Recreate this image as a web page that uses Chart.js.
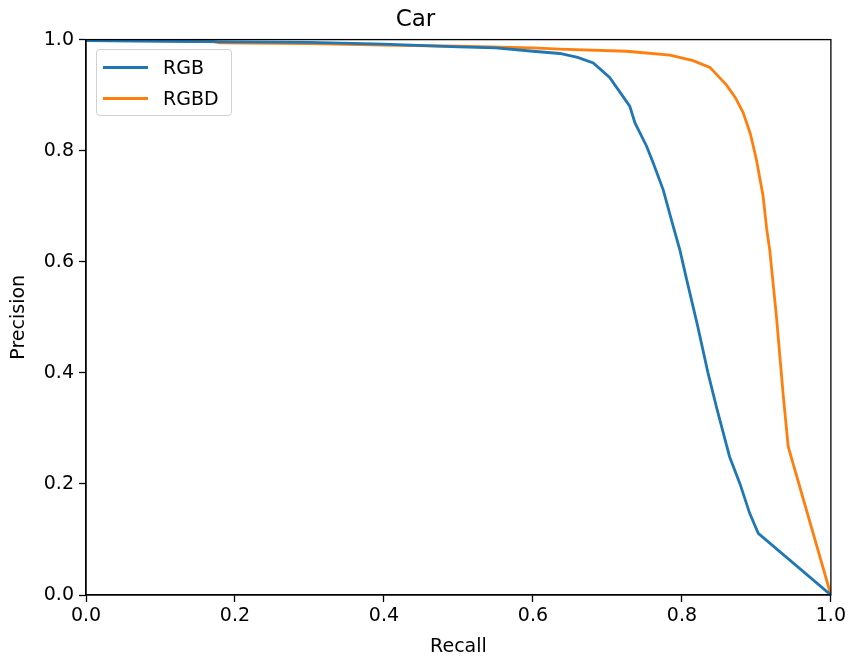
<!DOCTYPE html>
<html>
<head>
<meta charset="utf-8">
<script src="https://cdn.jsdelivr.net/npm/chart.js@4.4.0/dist/chart.umd.min.js"></script>
<style>
  html, body { margin: 0; padding: 0; background: #fff; }
  #wrap { position: relative; width: 849px; height: 660px; }
  #legend {
    position: absolute; left: 96px; top: 49px; width: 136px; height: 67px;
    border: 1.3px solid #d0d0d0; border-radius: 4px; background: rgba(255,255,255,0.8);
    font-family: "DejaVu Sans", sans-serif; font-size: 19px; color: #000;
    box-sizing: border-box;
  }
  .item { position: absolute; left: 0; height: 24px; }
  .swatch { position: absolute; left: 6px; width: 45px; height: 3px; }
  .lbl { position: absolute; left: 66px; line-height: 24px; white-space: nowrap; }
</style>
</head>
<body>
<div id="wrap">
  <canvas id="c" width="849" height="660"></canvas>
  <div id="legend">
    <div class="item" style="top:5px;"><div class="swatch" style="top:11px;background:#1f77b4"></div><div class="lbl">RGB</div></div>
    <div class="item" style="top:36px;"><div class="swatch" style="top:11px;background:#ff7f0e"></div><div class="lbl">RGBD</div></div>
  </div>
</div>
<script>
const chartTitle = "Car";
const xLabel = "Recall";
const yLabel = "Precision";
const seriesNames = ["RGB", "RGBD"];
const seriesColors = ["#1f77b4", "#ff7f0e"];
const tickValues = [0.0, 0.2, 0.4, 0.6, 0.8, 1.0];

const rgbRecall = [0, 0.1, 0.2, 0.3, 0.4, 0.5, 0.55, 0.6, 0.636, 0.66, 0.681, 0.703, 0.717, 0.730, 0.737, 0.7526, 0.7615, 0.775, 0.786, 0.7973, 0.806, 0.821, 0.835, 0.847, 0.851, 0.864, 0.878, 0.891, 0.9025, 1.0];
const rgbPrecision = [0.998, 0.997, 0.996, 0.995, 0.992, 0.987, 0.985, 0.979, 0.975, 0.968, 0.958, 0.932, 0.905, 0.880, 0.850, 0.808, 0.778, 0.729, 0.675, 0.621, 0.570, 0.485, 0.40, 0.335, 0.315, 0.249, 0.20, 0.147, 0.111, 0.0];

const rgbdRecall = [0, 0.1, 0.17, 0.18, 0.3, 0.4, 0.5, 0.6, 0.636, 0.7258, 0.784, 0.815, 0.8376, 0.860, 0.872, 0.8823, 0.892, 0.900, 0.909, 0.9137, 0.918, 0.927, 0.936, 0.9427, 1.0];
const rgbdPrecision = [1.0, 0.998, 0.997, 0.994, 0.993, 0.990, 0.988, 0.985, 0.983, 0.979, 0.972, 0.962, 0.950, 0.918, 0.895, 0.868, 0.830, 0.784, 0.718, 0.660, 0.620, 0.500, 0.360, 0.267, 0.0];

function toPoints(xs, ys) { return xs.map((x, i) => ({ x: x, y: ys[i] })); }

const frame = {
  id: 'frame',
  afterDatasetsDraw(chart) {
    const a = chart.chartArea, ctx = chart.ctx;
    ctx.save();
    ctx.strokeStyle = '#000';
    ctx.lineWidth = 1.3;
    ctx.strokeRect(a.left, a.top, a.right - a.left, a.bottom - a.top);
    ctx.restore();
  }
};

const font = { family: "'DejaVu Sans', sans-serif", size: 19 };

new Chart(document.getElementById('c'), {
  type: 'line',
  data: {
    datasets: [
      { label: seriesNames[0], data: toPoints(rgbRecall, rgbPrecision), borderColor: seriesColors[0], backgroundColor: seriesColors[0], borderWidth: 2.8, pointRadius: 0, tension: 0, fill: false },
      { label: seriesNames[1], data: toPoints(rgbdRecall, rgbdPrecision), borderColor: seriesColors[1], backgroundColor: seriesColors[1], borderWidth: 2.8, pointRadius: 0, tension: 0, fill: false }
    ]
  },
  options: {
    responsive: false,
    animation: false,
    layout: { padding: { left: 0, right: 18, top: 0, bottom: 0 } },
    plugins: {
      legend: { display: false },
      tooltip: { enabled: false },
      title: { display: true, text: chartTitle, color: '#000', font: { family: font.family, size: 23, weight: 'normal' }, padding: { top: 6, bottom: 6 } }
    },
    scales: {
      x: {
        type: 'linear', min: 0, max: 1,
        afterFit(s) { s.height = 65; },
        afterBuildTicks(s) { s.ticks = tickValues.map(v => ({ value: v })); },
        ticks: { color: '#000', font: font, padding: 3, maxRotation: 0, callback: v => v.toFixed(1) },
        grid: { display: true, drawOnChartArea: false, drawTicks: true, tickLength: 7, tickWidth: 1.3, tickColor: '#000' },
        border: { display: true, color: '#000', width: 1.3 },
        title: { display: true, text: xLabel, color: '#000', font: font, padding: { top: 0, bottom: 2 } }
      },
      y: {
        type: 'linear', min: 0, max: 1,
        afterFit(s) { s.width = 86; },
        afterBuildTicks(s) { s.ticks = tickValues.map(v => ({ value: v })); },
        ticks: { color: '#000', font: font, padding: 5, callback: v => v.toFixed(1) },
        grid: { display: true, drawOnChartArea: false, drawTicks: true, tickLength: 7, tickWidth: 1.3, tickColor: '#000' },
        border: { display: true, color: '#000', width: 1.3 },
        title: { display: true, text: yLabel, color: '#000', font: font, padding: { top: 8, bottom: 0 } }
      }
    }
  },
  plugins: [frame]
});
</script>
</body>
</html>
